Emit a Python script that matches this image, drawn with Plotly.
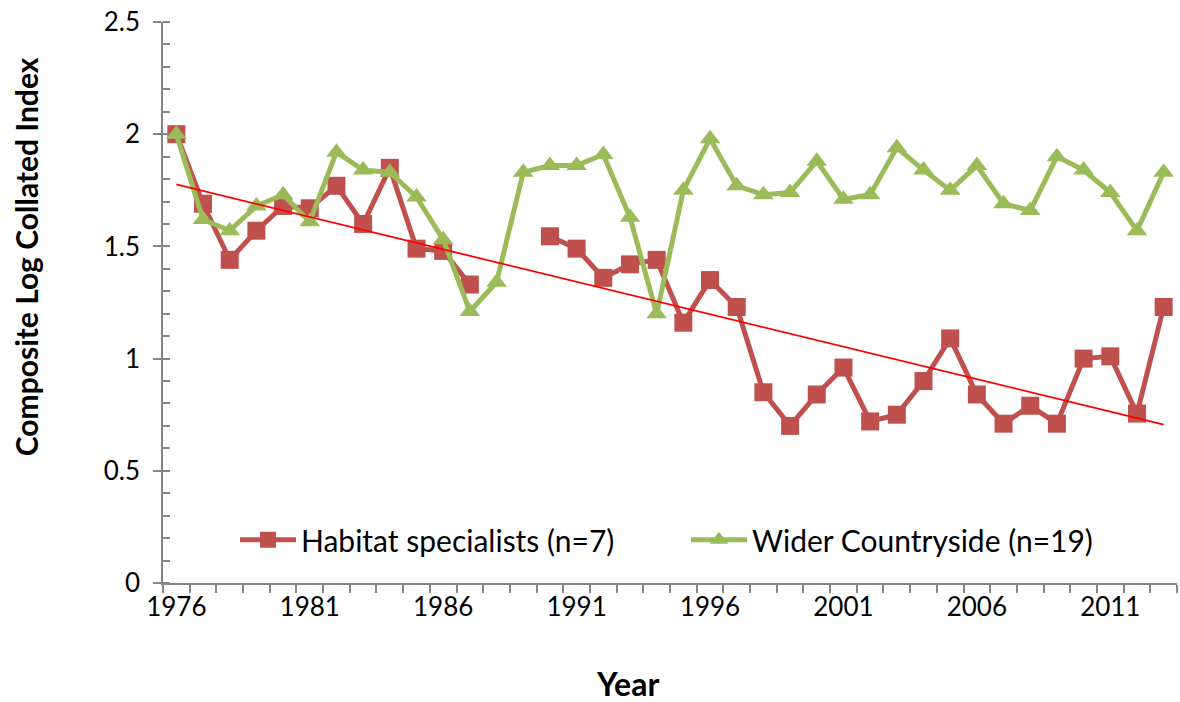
import plotly.graph_objects as go

years = list(range(1976, 2014))
habitat = [2.00, 1.69, 1.44, 1.57, 1.68, 1.67, 1.77, 1.60, 1.85, 1.49,
           1.48, 1.33, None, None, 1.545, 1.49, 1.36, 1.42, 1.44, 1.16,
           1.35, 1.23, 0.85, 0.70, 0.84, 0.96, 0.72, 0.75, 0.90, 1.09,
           0.84, 0.71, 0.79, 0.71, 1.00, 1.01, 0.755, 1.23]
wider = [2.00, 1.62, 1.57, 1.68, 1.73, 1.61, 1.92, 1.84, 1.83, 1.72,
         1.53, 1.21, 1.34, 1.83, 1.86, 1.86, 1.91, 1.63, 1.20, 1.75,
         1.98, 1.77, 1.73, 1.74, 1.88, 1.71, 1.73, 1.94, 1.84, 1.75,
         1.86, 1.69, 1.66, 1.90, 1.84, 1.74, 1.57, 1.83]
trend_years = [1976, 2013]
trend_vals = [1.776, 0.706]

FONT = "Lato, 'Open Sans', sans-serif"
RED = "#C0504D"
GREEN = "#9BBB59"
AXIS = "#868686"

fig = go.Figure()
fig.add_trace(go.Scatter(
    x=years, y=habitat, mode="lines+markers", name="Habitat specialists (n=7)",
    line=dict(color=RED, width=5), connectgaps=False,
    marker=dict(symbol="square", size=18, color=RED),
))
fig.add_trace(go.Scatter(
    x=years, y=wider, mode="lines+markers", name="Wider Countryside (n=19)",
    line=dict(color=GREEN, width=5),
    marker=dict(symbol="triangle-up", size=18, color=GREEN),
))
fig.add_trace(go.Scatter(
    x=trend_years, y=trend_vals, mode="lines", showlegend=False,
    line=dict(color="#FF0000", width=1.8), hoverinfo="skip",
))

fig.update_layout(
    width=1180, height=702,
    margin=dict(l=163, r=3, t=22, b=119),
    paper_bgcolor="white", plot_bgcolor="white",
    font=dict(family=FONT, size=26, color="#000000"),
    showlegend=True,
    legend=dict(
        orientation="h", x=0.071, y=0.077, xanchor="left", yanchor="middle",
        font=dict(family=FONT, size=30, color="#000000"),
        bgcolor="rgba(0,0,0,0)", traceorder="normal",
        itemwidth=56, entrywidth=380,
    ),
    xaxis=dict(
        range=[1975.5, 2013.5], tick0=1976, dtick=5, tickmode="linear",
        ticks="", showgrid=False, zeroline=False,
        showline=True, linecolor=AXIS, linewidth=1.5,
        tickfont=dict(family=FONT, size=26, color="#000000"),
        ticklabelstandoff=0,
        minor=dict(ticks="outside", tick0=1975.5, dtick=1, ticklen=8,
                   tickcolor=AXIS, tickwidth=1.5, showgrid=False),
    ),
    yaxis=dict(
        range=[0, 2.5], tick0=0, dtick=0.5, tickmode="linear",
        ticks="outside", ticklen=8, tickcolor=AXIS, tickwidth=1.5,
        showgrid=False, zeroline=False,
        showline=True, linecolor=AXIS, linewidth=1.5,
        tickfont=dict(family=FONT, size=26, color="#000000"),
        ticklabelstandoff=8,
        minor=dict(ticks="inside", tick0=0, dtick=0.1, ticklen=7,
                   tickcolor=AXIS, tickwidth=1.5, showgrid=False),
    ),
    annotations=[
        dict(text="<b>Composite Log Collated Index</b>", textangle=-90,
             xref="paper", yref="paper", x=-0.135, y=0.581,
             xanchor="center", yanchor="middle", showarrow=False,
             font=dict(family=FONT, size=30, color="#000000")),
        dict(text="<b>Year</b>",
             xref="paper", yref="paper", x=0.4576, y=-0.18,
             xanchor="center", yanchor="middle", showarrow=False,
             font=dict(family=FONT, size=32, color="#000000")),
    ],
)

fig.write_html(
    "out.html",
    config={"displayModeBar": False},
    post_script="document.body.style.margin='0';document.body.style.overflow='hidden';",
)
